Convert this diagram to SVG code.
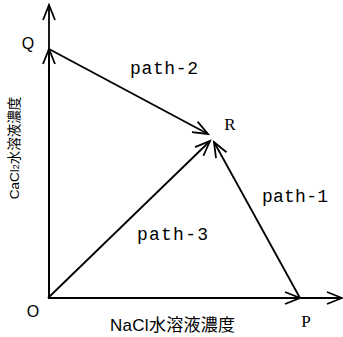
<svg xmlns="http://www.w3.org/2000/svg" width="343" height="337" viewBox="0 0 343 337">
<style>
.ln{stroke:#000;stroke-width:1.8;fill:none}
.mono{font-family:'Liberation Mono','Courier New',monospace;fill:#000;font-weight:normal}
.serif{font-family:'Liberation Serif','Times New Roman',serif;fill:#000}
.sans{font-family:'Liberation Sans',Arial,sans-serif;fill:#000}
.cjk{font-family:'Liberation Sans','Noto Sans CJK JP',sans-serif;fill:#000}
</style>
<defs>
<marker id="ah" markerUnits="userSpaceOnUse" markerWidth="18" markerHeight="14" refX="16" refY="7" orient="auto" overflow="visible">
<path d="M1,1 L16,7 L1,13" fill="none" stroke="#000" stroke-width="1.8"/>
</marker>
</defs>
<rect width="343" height="337" fill="#fff"/>
<g id="connectors">
<line class="ln" x1="49" y1="298" x2="49" y2="5" marker-end="url(#ah)"/>
<line class="ln" x1="48" y1="298" x2="342" y2="298" marker-end="url(#ah)"/>
<line class="ln" x1="49" y1="298" x2="49" y2="49" marker-end="url(#ah)"/>
<line class="ln" x1="48" y1="298" x2="300" y2="298" marker-end="url(#ah)"/>
<line class="ln" x1="49" y1="49" x2="208" y2="134" marker-end="url(#ah)"/>
<line class="ln" x1="300" y1="298" x2="214" y2="142" marker-end="url(#ah)"/>
<line class="ln" x1="48" y1="298" x2="210" y2="141" marker-end="url(#ah)"/>
</g>
<g id="node-O"><text class="sans" x="33" y="317" font-size="16" text-anchor="middle">O</text></g>
<g id="node-Q"><text class="sans" x="28" y="49" font-size="16" text-anchor="middle">Q</text></g>
<g id="node-R"><text class="serif" x="230" y="130" font-size="17" text-anchor="middle">R</text></g>
<g id="node-P"><text class="serif" x="306" y="327" font-size="17" text-anchor="middle">P</text></g>
<g id="labels">
<text class="mono" x="130" y="74" font-size="18" textLength="68">path-2</text>
<text class="mono" x="262" y="202" font-size="18" textLength="66">path-1</text>
<text class="mono" x="137" y="240" font-size="18" textLength="71">path-3</text>
<text class="cjk" x="110" y="331" font-size="17" textLength="125">NaCl水溶液濃度</text>
<text class="cjk" transform="translate(19,148) rotate(-90)" font-size="13.5" text-anchor="middle">CaCl<tspan font-size="9">2</tspan>水溶液濃度</text>
</g>
</svg>
